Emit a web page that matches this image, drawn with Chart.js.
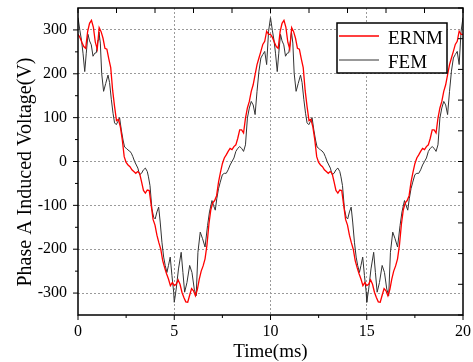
<!DOCTYPE html>
<html>
<head>
<meta charset="utf-8">
<script src="https://cdn.jsdelivr.net/npm/chart.js@4/dist/chart.umd.min.js"></script>
<style>
  html, body { margin: 0; padding: 0; background: #fff; }
</style>
</head>
<body>
<canvas id="chart" width="473" height="362"></canvas>
<script>
// ERNM sampled every 0.1 ms, 0 to 20 ms
const ernmStep = 0.1
const ernmVolt = [
  290, 283, 272, 262, 258, 296, 315, 322, 306, 272,
  256, 305, 296, 281, 258, 256, 234, 214, 162, 125,
  93, 96, 79, 50, 11, -2, -8, -12, -19, -23,
  -27, -23, -27, -46, -66, -72, -65, -66, -99, -132,
  -145, -168, -185, -200, -226, -242, -256, -268, -283, -276,
  -283, -280, -270, -280, -298, -310, -320, -321, -305, -290,
  -295, -306, -292, -268, -250, -238, -222, -190, -143, -110,
  -94, -89, -78, -47, -25, -5, 8, 15, 23, 30,
  27, 34, 38, 53, 72, 72, 65, 99, 122, 137,
  160, 175, 198, 221, 236, 251, 267, 274, 297, 290,
  290, 283, 272, 262, 258, 296, 315, 322, 306, 272,
  256, 305, 296, 281, 258, 256, 234, 214, 162, 125,
  93, 96, 79, 50, 11, -2, -8, -12, -19, -23,
  -27, -23, -27, -46, -66, -72, -65, -66, -99, -132,
  -145, -168, -185, -200, -226, -242, -256, -268, -283, -276,
  -283, -280, -270, -280, -298, -310, -320, -321, -305, -290,
  -295, -306, -292, -268, -250, -238, -222, -190, -143, -110,
  -94, -89, -78, -47, -25, -5, 8, 15, 23, 30,
  27, 34, 38, 53, 72, 72, 65, 99, 122, 137,
  160, 175, 198, 221, 236, 251, 267, 274, 297, 290,
  290
]

// FEM vertices (ms, V)
const femTime = [
  0, 0.1, 0.18, 0.26, 0.35, 0.43, 0.52, 0.6, 0.69, 0.78,
  0.87, 0.95, 1.04, 1.09, 1.16, 1.23, 1.33, 1.44, 1.56, 1.64,
  1.73, 1.82, 1.9, 1.99, 2.08, 2.16, 2.25, 2.34, 2.42, 2.51,
  2.6, 2.68, 2.77, 2.85, 2.94, 3.03, 3.11, 3.2, 3.3, 3.4,
  3.5, 3.6, 3.66, 3.74, 3.84, 3.93, 4.01, 4.1, 4.19, 4.27,
  4.36, 4.45, 4.53, 4.62, 4.7, 4.79, 4.88, 4.97, 5.0, 5.1,
  5.22, 5.36, 5.45, 5.54, 5.66, 5.8, 5.92, 6.04, 6.14, 6.23,
  6.35, 6.47, 6.6, 6.73, 6.83, 6.96, 7.04, 7.13, 7.21, 7.3,
  7.39, 7.5, 7.6, 7.7, 7.8, 7.9, 8.0, 8.1, 8.2, 8.3,
  8.4, 8.5, 8.6, 8.7, 8.8, 8.9, 9.0, 9.1, 9.2, 9.3,
  9.4, 9.5, 9.6, 9.7, 9.8, 9.9,
  10, 10.1, 10.18, 10.26, 10.35, 10.43, 10.52, 10.6, 10.69, 10.78,
  10.87, 10.95, 11.04, 11.09, 11.16, 11.23, 11.33, 11.44, 11.56, 11.64,
  11.73, 11.82, 11.9, 11.99, 12.08, 12.16, 12.25, 12.34, 12.42, 12.51,
  12.6, 12.68, 12.77, 12.85, 12.94, 13.03, 13.11, 13.2, 13.3, 13.4,
  13.5, 13.6, 13.66, 13.74, 13.84, 13.93, 14.01, 14.1, 14.19, 14.27,
  14.36, 14.45, 14.53, 14.62, 14.7, 14.79, 14.88, 14.97, 15.0, 15.1,
  15.22, 15.36, 15.45, 15.54, 15.66, 15.8, 15.92, 16.04, 16.14, 16.23,
  16.35, 16.47, 16.6, 16.73, 16.83, 16.96, 17.04, 17.13, 17.21, 17.3,
  17.39, 17.5, 17.6, 17.7, 17.8, 17.9, 18.0, 18.1, 18.2, 18.3,
  18.4, 18.5, 18.6, 18.7, 18.8, 18.9, 19.0, 19.1, 19.2, 19.3,
  19.4, 19.5, 19.6, 19.7, 19.8, 19.9, 20
]
const femVolt = [
  328, 298, 277, 247, 205, 247, 290, 275, 266, 240,
  247, 248, 277, 295, 270, 201, 160, 178, 197, 180,
  142, 110, 88, 84, 92, 100, 72, 49, 33, 30,
  26, 24, 19, 11, 0, -8, -15, -30, -27, -19,
  -15, -23, -35, -55, -108, -127, -131, -115, -104, -138,
  -184, -218, -237, -253, -237, -218, -260, -298, -321, -291,
  -245, -207, -253, -298, -276, -237, -253, -291, -306, -207,
  -161, -176, -195, -146, -115, -89, -100, -111, -85, -62,
  -47, -30, -27, -27, -19, -8, 0, 8, 23, 30,
  34, 30, 23, 38, 99, 122, 137, 129, 107, 160,
  206, 236, 244, 251, 221, 297,
  328, 298, 277, 247, 205, 247, 290, 275, 266, 240,
  247, 248, 277, 295, 270, 201, 160, 178, 197, 180,
  142, 110, 88, 84, 92, 100, 72, 49, 33, 30,
  26, 24, 19, 11, 0, -8, -15, -30, -27, -19,
  -15, -23, -35, -55, -108, -127, -131, -115, -104, -138,
  -184, -218, -237, -253, -237, -218, -260, -298, -321, -291,
  -245, -207, -253, -298, -276, -237, -253, -291, -306, -207,
  -161, -176, -195, -146, -115, -89, -100, -111, -85, -62,
  -47, -30, -27, -27, -19, -8, 0, 8, 23, 30,
  34, 30, 23, 38, 99, 122, 137, 129, 107, 160,
  206, 236, 244, 251, 221, 297, 328
]

const xMajorTicks = [0, 5, 10, 15, 20]
const xMinorTicks = [2.5, 7.5, 12.5, 17.5]
const topTicks = [0, 2, 4, 6, 8, 10, 12, 14, 16, 18, 20]
const yMajorTicks = [-300, -200, -100, 0, 100, 200, 300]
const yMinorTicks = [-250, -150, -50, 50, 150, 250]
const rightTicks = [-350, -280, -210, -140, -70, 0, 70, 140, 210, 280, 350]

const xTitle = 'Time(ms)'
const yTitle = 'Phase A Induced Voltage(V)'
const serif = '"Liberation Serif", "Times New Roman", serif'

const noEdgePadding = (s) => {
  s.paddingTop = 0
  s.paddingBottom = 0
  s.paddingLeft = 0
  s.paddingRight = 0
}

const frame = {
  id: 'frame',
  afterDatasetsDraw(chart) {
    const { ctx, chartArea: a, scales: { x, y } } = chart
    ctx.save()
    ctx.strokeStyle = '#000'
    ctx.lineWidth = 1.5
    ctx.strokeRect(a.left, a.top, a.right - a.left, a.bottom - a.top)

    ctx.lineWidth = 1
    ctx.beginPath()
    const tick = (x1, y1, x2, y2) => { ctx.moveTo(x1, y1); ctx.lineTo(x2, y2) }
    xMajorTicks.forEach(v => { const p = x.getPixelForValue(v); tick(p, a.bottom, p, a.bottom + 5) })
    xMinorTicks.forEach(v => { const p = x.getPixelForValue(v); tick(p, a.bottom, p, a.bottom + 3) })
    topTicks.forEach(v => { const p = x.getPixelForValue(v); tick(p, a.top, p, a.top + 5) })
    yMajorTicks.forEach(v => { const p = y.getPixelForValue(v); tick(a.left, p, a.left - 5, p) })
    yMinorTicks.forEach(v => { const p = y.getPixelForValue(v); tick(a.left, p, a.left - 3, p) })
    rightTicks.forEach(v => { const p = y.getPixelForValue(v); tick(a.right, p, a.right - 5, p) })
    ctx.stroke()

    // axis titles
    ctx.fillStyle = '#000'
    ctx.textAlign = 'center'
    ctx.textBaseline = 'alphabetic'
    ctx.font = '19px ' + serif
    ctx.fillText(xTitle, (a.left + a.right) / 2, 357)
    ctx.save()
    ctx.translate(31, 172)
    ctx.rotate(-Math.PI / 2)
    ctx.font = '20px ' + serif
    ctx.fillText(yTitle, 0, 0)
    ctx.restore()

    // legend
    const lx = 337, ly = 23, lw = 110, lh = 50
    ctx.fillStyle = '#fff'
    ctx.fillRect(lx, ly, lw, lh)
    ctx.lineWidth = 1.5
    ctx.strokeStyle = '#000'
    ctx.strokeRect(lx, ly, lw, lh)
    ctx.textAlign = 'left'
    ctx.font = '19px ' + serif
    chart.data.datasets.forEach((ds, i) => {
      const rowY = ly + 13 + i * 24
      ctx.strokeStyle = ds.borderColor
      ctx.lineWidth = ds.borderWidth
      ctx.beginPath()
      ctx.moveTo(lx + 2, rowY)
      ctx.lineTo(lx + 42, rowY)
      ctx.stroke()
      ctx.fillStyle = '#000'
      ctx.fillText(ds.label, lx + 51, rowY + 8)
    })
    ctx.restore()
  }
}

new Chart(document.getElementById('chart'), {
  type: 'line',
  data: {
    datasets: [{
      label: 'ERNM',
      data: ernmVolt.map((v, i) => ({ x: i * ernmStep, y: v })),
      borderColor: '#ff0000',
      borderWidth: 1.3,
      pointRadius: 0,
      tension: 0
    }, {
      label: 'FEM',
      data: femVolt.map((v, i) => ({ x: femTime[i], y: v })),
      borderColor: '#333333',
      borderWidth: 1,
      pointRadius: 0,
      tension: 0
    }]
  },
  options: {
    responsive: false,
    animation: false,
    devicePixelRatio: 1,
    layout: { padding: { left: 0, right: 10, top: 8, bottom: 0 } },
    plugins: {
      legend: { display: false },
      tooltip: { enabled: false }
    },
    scales: {
      x: {
        type: 'linear',
        min: 0,
        max: 20,
        border: { display: false, dash: [2, 2] },
        grid: {
          color: (c) => (c.tick && (c.tick.value === 0 || c.tick.value === 20)) ? 'rgba(0,0,0,0)' : '#9a9a9a',
          drawTicks: false
        },
        ticks: {
          padding: 7,
          color: '#000',
          font: { family: serif, size: 16 }
        },
        afterBuildTicks: (s) => { s.ticks = xMajorTicks.map(v => ({ value: v })) },
        afterFit: (s) => { s.height = 47; noEdgePadding(s) }
      },
      y: {
        type: 'linear',
        min: -350,
        max: 350,
        border: { display: false, dash: [2, 2] },
        grid: {
          color: '#9a9a9a',
          drawTicks: false
        },
        ticks: {
          padding: 11,
          color: '#000',
          font: { family: serif, size: 16 }
        },
        afterBuildTicks: (s) => { s.ticks = yMajorTicks.map(v => ({ value: v })) },
        afterFit: (s) => { s.width = 78; noEdgePadding(s) }
      }
    }
  },
  plugins: [frame]
})
</script>
</body>
</html>
